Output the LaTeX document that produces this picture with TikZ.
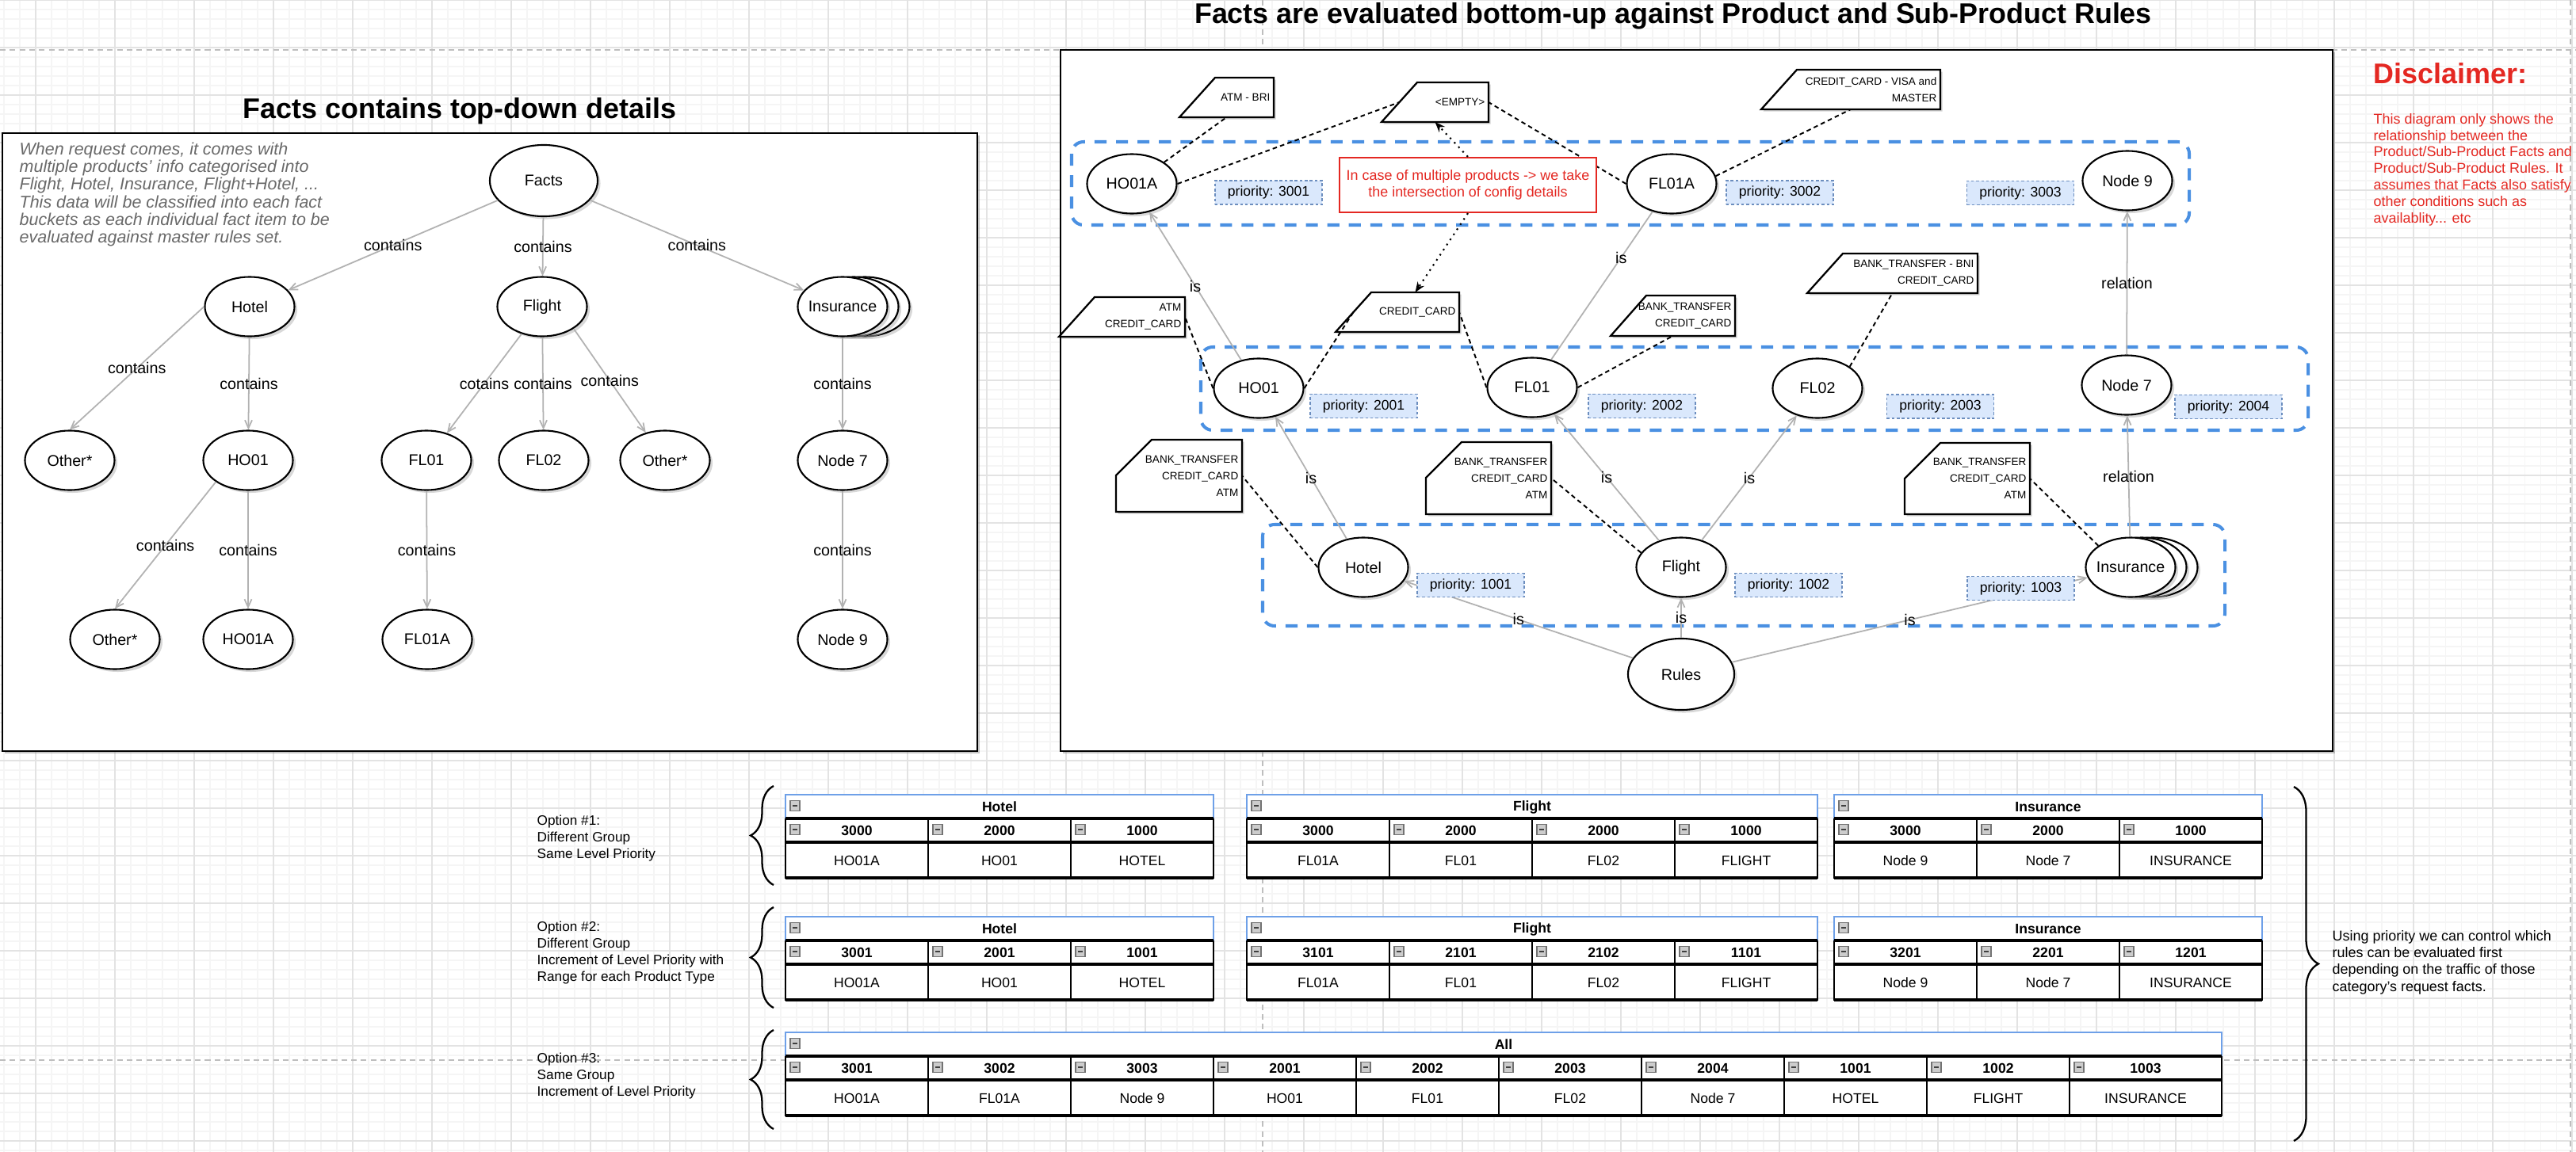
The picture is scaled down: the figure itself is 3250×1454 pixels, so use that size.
\documentclass[tikz,border=0pt]{standalone}
\usepackage{fontspec}
\setmainfont{Liberation Sans}
\usetikzlibrary{shapes.geometric,arrows.meta,shadows,decorations.pathreplacing}

\definecolor{edgegray}{RGB}{178,178,178}
\definecolor{grpblue}{RGB}{74,144,226}
\definecolor{prifill}{RGB}{218,232,252}
\definecolor{pridraw}{RGB}{108,142,191}
\definecolor{alertred}{RGB}{228,40,34}
\definecolor{tblblue}{RGB}{110,160,232}
\definecolor{introgray}{RGB}{105,105,105}
\definecolor{pagegray}{RGB}{190,190,190}

\newcommand{\myfs}[2]{\fontsize{#1}{#2}\selectfont}

\newcommand{\minusicon}[2]{%
  \draw[iconbox] ({#1-6},{#2-6.5}) rectangle ({#1+6},{#2+6.5});
  \draw[black!75, line width=0.6pt] ({#1-3},{#2}) -- ({#1+3},{#2});
}

% #1 name, #2 left, #3 top, #4 right, #5 bottom, #6 cut height, #7 text
\newcommand{\cardnote}[7]{%
  \draw[noteshape] (#2,#5) -- (#2,{#3+#6}) -- ({#2+45},#3) -- (#4,#3) -- (#4,#5) -- cycle;
  \node[notetext, anchor=east] (#1) at ({#4-4},{(#3+#5)/2}) {#7};
  \coordinate (#1-s) at ({(#2+#4)/2},#5);
  \coordinate (#1-n) at ({(#2+45+#4)/2},#3);
  \coordinate (#1-e) at (#4,{(#3+#5)/2});
  \coordinate (#1-w) at ({#2+max(0,45*(#6-(#5-#3)/2)/#6)},{(#3+#5)/2});
}

% #1 left, #2 right, #3 top, #4 title, #5 list left/width/header/data
\newcommand{\prodtable}[5]{%
  \fill[white] (#1,#3) rectangle (#2,{#3+105});
  \node[tbltitle] (tb-#3-#1-t) at ({(#1+#2)/2},{#3+15.5}) {#4};
  \minusicon{#1+12}{#3+14}
  \foreach \cl/\cw/\hd/\dt in {#5}{%
    \draw[tblline] (\cl,{#3+30}) rectangle ({\cl+\cw},{#3+105});
    \node[tblhead] (tb-#3-\cl-h) at ({\cl+\cw/2},{#3+45.5}) {\hd};
    \node[tbldata] (tb-#3-\cl-d) at ({\cl+\cw/2},{#3+83}) {\dt};
    \minusicon{\cl+12}{#3+44}
  }
  \draw[tblblue, line width=0.7pt] (#1,{#3+30}) -- (#1,#3) -- (#2,#3) -- (#2,{#3+30});
  \draw[black, line width=0.9pt] (#1,{#3+30}) -- (#2,{#3+30});
  \draw[black, line width=0.9pt] (#1,{#3+60}) -- (#2,{#3+60});
  \draw[black, line width=1.1pt] (#1,{#3+105}) -- (#2,{#3+105});
}

\begin{document}
\begin{tikzpicture}[x=0.01cm, y=-0.01cm,
  gridminor/.style={draw=black!4, line width=0.3pt},
  gridmajor/.style={draw=black!11, line width=0.4pt},
  pageline/.style={draw=pagegray, line width=0.5pt, dash pattern=on 2pt off 1.5pt},
  panel/.style={draw=black, line width=0.7pt, fill=white,
    drop shadow={shadow xshift=0.03cm, shadow yshift=-0.03cm, fill=black!45}},
  circ/.style={ellipse, draw=black, line width=0.6pt, fill=white,
    minimum width=1.13cm, minimum height=0.75cm, inner sep=0pt,
    font=\myfs{5.6}{6.7},
    drop shadow={shadow xshift=0.035cm, shadow yshift=-0.035cm, fill=black!30}},
  gedge/.style={draw=edgegray, line width=0.5pt, -{Straight Barb[length=0.1cm,width=0.09cm]}},
  elabel/.style={font=\myfs{5.6}{6.7}, inner sep=1pt, text=black},
  ndash/.style={draw=black, line width=0.55pt, dash pattern=on 1.6pt off 1.2pt},
  ndot/.style={draw=black, line width=0.6pt, dash pattern=on 0.6pt off 1.6pt,
    -{Stealth[length=0.13cm,width=0.1cm]}},
  grp/.style={draw=grpblue, line width=1.15pt, dash pattern=on 4.3pt off 3.4pt,
    rounded corners=0.15cm},
  prio/.style={rectangle, draw=pridraw, fill=prifill, line width=0.45pt,
    dash pattern=on 1pt off 0.8pt, minimum width=1.35cm, minimum height=0.3cm,
    inner sep=0pt, font=\myfs{5.0}{6}},
  noteshape/.style={draw=black, line width=0.65pt, fill=white,
    drop shadow={shadow xshift=0.025cm, shadow yshift=-0.025cm, fill=black!35}},
  notetext/.style={inner sep=0pt, align=right, font=\myfs{3.85}{6}},
  redbox/.style={rectangle, draw=alertred, line width=0.6pt, fill=white,
    minimum width=3.24cm, minimum height=0.69cm, inner sep=0pt, text=alertred,
    align=center, font=\myfs{5.1}{6}},
  iconbox/.style={draw=black!55, fill=black!20, line width=0.35pt},
  tblline/.style={draw=black, line width=0.6pt},
  tbltitle/.style={inner sep=0pt, font=\bfseries\myfs{5.0}{6}},
  tblhead/.style={inner sep=0pt, font=\bfseries\myfs{5.0}{6}},
  tbldata/.style={inner sep=0pt, font=\myfs{5.0}{6}},
  textblock/.style={anchor=north west, align=left, inner sep=0pt},
  bracestyle/.style={draw=black, line width=0.65pt, decorate}
]
\useasboundingbox (0,0) rectangle (3250,1454);
\fill[white] (0,0) rectangle (3250,1454);

% ---------- background grid ----------
\foreach \gx in {5,25,...,3245} \draw[gridminor] (\gx,0) -- (\gx,1454);
\foreach \gy in {0,12,...,1452} \draw[gridminor] (0,\gy) -- (3250,\gy);
\foreach \gx in {45,145,...,3245} \draw[gridmajor] (\gx,0) -- (\gx,1454);
\foreach \gy in {0,60,...,1440} \draw[gridmajor] (0,\gy) -- (3250,\gy);

% ---------- page break lines ----------
\draw[pageline] (0,63) -- (3250,63);
\draw[pageline] (0,1338) -- (3250,1338);
\draw[pageline] (1593,0) -- (1593,1454);
\draw[pageline] (3243,0) -- (3243,1454);

% ---------- titles ----------
\node[anchor=base, inner sep=0pt, font=\bfseries\myfs{10.2}{12}] (ltitle) at (580,149) {Facts contains top-down details};
\node[anchor=base, inner sep=0pt, font=\bfseries\myfs{10.2}{12}] (rtitle) at (2111,29) {Facts are evaluated bottom-up against Product and Sub-Product Rules};

% ---------- panels ----------
\draw[panel] (3,168) rectangle (1233,948);
\draw[panel] (1338,63) rectangle (2943,948);

% ================= LEFT PANEL =================
\node[textblock, text=introgray, font=\itshape\myfs{6.1}{6.35}] (intro) at (24,179)
  {When request comes, it comes with\\multiple products' info categorised into\\Flight, Hotel, Insurance, Flight+Hotel, ...\\This data will be classified into each fact\\buckets as each individual fact item to be\\evaluated against master rules set.};

\node[circ, minimum width=1.36cm, minimum height=0.9cm] (facts) at (686,228) {Facts};
\node[circ] (hotel) at (315,387) {Hotel};
\node[circ] (flight) at (684,387) {Flight};
\node[circ] (insb2) at (1091,387) {};
\node[circ] (insb1) at (1077,387) {};
\node[circ] (ins) at (1063,387) {\makebox[0pt]{Insurance}};
\node[circ] (lo1) at (88,581) {Other*};
\node[circ] (lho01) at (313,581) {HO01};
\node[circ] (lfl01) at (538,581) {FL01};
\node[circ] (lfl02) at (686,581) {FL02};
\node[circ] (lo2) at (839,581) {Other*};
\node[circ] (lnode7) at (1063,581) {Node 7};
\node[circ] (lo3) at (145,807) {Other*};
\node[circ] (lho01a) at (313,807) {HO01A};
\node[circ] (lfl01a) at (539,807) {FL01A};
\node[circ] (lnode9) at (1063,807) {Node 9};

\draw[gedge] (facts) -- node[elabel] (la1) {contains} (hotel);
\draw[gedge] (facts) -- node[elabel] (la2) {contains} (flight);
\draw[gedge] (facts) -- node[elabel] (la3) {contains} (ins);
\draw[gedge] (hotel.west) -- node[elabel] (la4) {contains} (lo1.north);
\draw[gedge] (hotel) -- node[elabel] (la5) {contains} (lho01);
\draw[gedge] (flight) -- node[elabel] (la6) {cotains} (lfl01);
\draw[gedge] (flight) -- node[elabel] (la7) {contains} (lfl02);
\draw[gedge] (flight.-35) -- node[elabel] (la8) {contains} (lo2);
\draw[gedge] (ins) -- node[elabel] (la9) {contains} (lnode7);
\draw[gedge] (lho01.south west) -- node[elabel] (la10) {contains} (lo3.north);
\draw[gedge] (lho01) -- node[elabel] (la11) {contains} (lho01a);
\draw[gedge] (lfl01) -- node[elabel] (la12) {contains} (lfl01a);
\draw[gedge] (lnode7) -- node[elabel] (la13) {contains} (lnode9);

% ================= RIGHT PANEL =================
\draw[grp] (1352,179) rectangle (2762,284);
\draw[grp] (1515,438) rectangle (2912,543);
\draw[grp] (1593,662) rectangle (2807,790);

\cardnote{n1}{1488}{98}{1607}{148}{50}{ATM - BRI}
\cardnote{n2}{1743}{104}{1878}{154}{50}{<EMPTY>}
\cardnote{n3}{2222}{88}{2448}{138}{50}{CREDIT\_CARD - VISA and\\MASTER}
\cardnote{n4}{1336}{375}{1495}{425}{50}{ATM\\CREDIT\_CARD}
\cardnote{n5}{1685}{369}{1841}{419}{50}{CREDIT\_CARD}
\cardnote{n6}{2032}{373}{2189}{424}{51}{BANK\_TRANSFER\\CREDIT\_CARD}
\cardnote{n7}{2280}{320}{2495}{370}{50}{BANK\_TRANSFER - BNI\\CREDIT\_CARD}
\cardnote{n8}{1408}{555}{1567}{646}{45}{BANK\_TRANSFER\\CREDIT\_CARD\\ATM}
\cardnote{n9}{1799}{558}{1957}{649}{45}{BANK\_TRANSFER\\CREDIT\_CARD\\ATM}
\cardnote{n10}{2403}{559}{2561}{649}{45}{BANK\_TRANSFER\\CREDIT\_CARD\\ATM}

\node[circ] (ho01a) at (1428,232) {HO01A};
\node[circ] (fl01a) at (2109,232) {FL01A};
\node[circ] (node9) at (2684,228) {Node 9};
\node[circ] (ho01) at (1588,490) {HO01};
\node[circ] (fl01) at (1933,489) {FL01};
\node[circ] (fl02) at (2293,490) {FL02};
\node[circ] (node7) at (2683,486) {Node 7};
\node[circ] (hotelR) at (1720,716) {Hotel};
\node[circ] (flightR) at (2121,716) {Flight};
\node[circ] (insRb2) at (2716,716) {};
\node[circ] (insRb1) at (2702,716) {};
\node[circ] (insR) at (2688,716) {\makebox[0pt]{Insurance}};
\node[circ, minimum width=1.34cm, minimum height=0.9cm] (rules) at (2121,851) {Rules};

% gray relation edges
\draw[gedge] (ho01) -- node[elabel] (lb1) {is} (ho01a);
\draw[gedge, -] (fl01) -- node[elabel, pos=0.69] (lb2) {is} (fl01a);
\draw[gedge] (hotelR) -- node[elabel] (lb3) {is} (ho01);
\draw[gedge] (flightR) -- node[elabel] (lb4) {is} (fl01);
\draw[gedge] (flightR) -- node[elabel] (lb5) {is} (fl02);
\draw[gedge] (insR) -- node[elabel] (lb6) {relation} (node7);
\draw[gedge] (node7) -- node[elabel] (lb7) {relation} (node9);
\draw[gedge] (rules) -- node[elabel] (lb8) {is} (hotelR);
\draw[gedge] (rules) -- node[elabel] (lb9) {is} (flightR);
\draw[gedge] (rules) -- node[elabel] (lb10) {is} (insR);

% dashed note connectors
\draw[ndash] (ho01a.north east) -- (n1-s);
\draw[ndash] (ho01a.east) -- (n2-w);
\draw[ndash] (fl01a.west) -- (n2-e);
\draw[ndash] (fl01a.10) -- (n3-s);
\draw[ndash] (ho01.west) -- (n4-e);
\draw[ndash] (ho01.east) -- (n5-w);
\draw[ndash] (fl01.west) -- (n5-e);
\draw[ndash] (fl01.east) -- (n6-s);
\draw[ndash] (fl02.north east) -- (n7-s);
\draw[ndash] (hotelR.west) -- (n8-e);
\draw[ndash] (flightR.160) -- (n9-e);
\draw[ndash] (insR.north west) -- (n10-e);

% red callout
\node[redbox] (rb) at (1852,233.5) {In case of multiple products -> we take\\the intersection of config details};
\draw[ndot] (rb.north) -- (n2-s);
\draw[ndot] (rb.south) -- (n5-n);

% priority boxes
\node[prio] (p3001) at (1600.5,243) {priority: 3001};
\node[prio] (p3002) at (2245.5,243) {priority: 3002};
\node[prio] (p3003) at (2549,243.5) {priority: 3003};
\node[prio] (p2001) at (1720.5,512.5) {priority: 2001};
\node[prio] (p2002) at (2071.5,512.5) {priority: 2002};
\node[prio] (p2003) at (2448,513) {priority: 2003};
\node[prio] (p2004) at (2811.5,513.5) {priority: 2004};
\node[prio] (p1001) at (1855.5,738.5) {priority: 1001};
\node[prio] (p1002) at (2256.5,738.5) {priority: 1002};
\node[prio] (p1003) at (2549.5,742.5) {priority: 1003};

% ================= DISCLAIMER =================
\node[anchor=base west, inner sep=0pt, text=alertred, font=\bfseries\myfs{10.2}{12}] (disc) at (2994,105) {Disclaimer:};
\node[textblock, text=alertred, font=\myfs{5.1}{5.92}] (disctext) at (2994,142.5)
  {This diagram only shows the\\relationship between the\\Product/Sub-Product Facts and\\Product/Sub-Product Rules. It\\assumes that Facts also satisfy\\other conditions such as\\availablity... etc};

% ================= OPTIONS / TABLES =================
\node[textblock, font=\myfs{4.9}{6}] (opt1) at (677,1028) {Option \#1:\\Different Group\\Same Level Priority};
\node[textblock, font=\myfs{4.9}{6}] (opt2) at (677,1162) {Option \#2:\\Different Group\\Increment of Level Priority with\\Range for each Product Type};
\node[textblock, font=\myfs{4.9}{6}] (opt3) at (677,1328) {Option \#3:\\Same Group\\Increment of Level Priority};

\draw[bracestyle, decoration={brace, amplitude=0.29cm}] (976,1117) -- (976,992);
\draw[bracestyle, decoration={brace, amplitude=0.29cm}] (976,1272) -- (976,1145);
\draw[bracestyle, decoration={brace, amplitude=0.29cm}] (976,1425) -- (976,1300);
\draw[bracestyle, decoration={brace, amplitude=0.31cm}] (2894,993) -- (2894,1440);

\node[textblock, font=\myfs{5.1}{6}] (usage) at (2942,1174) {Using priority we can control which\\rules can be evaluated first\\depending on the traffic of those\\category's request facts.};

% Option 1
\prodtable{991}{1531}{1003}{Hotel}{991/180/3000/HO01A,1171/180/2000/HO01,1351/180/1000/HOTEL}
\prodtable{1573}{2293}{1003}{Flight}{1573/180/3000/FL01A,1753/180/2000/FL01,1933/180/2000/FL02,2113/180/1000/FLIGHT}
\prodtable{2314}{2854}{1003}{Insurance}{2314/180/3000/Node 9,2494/180/2000/Node 7,2674/180/1000/INSURANCE}
% Option 2
\prodtable{991}{1531}{1157}{Hotel}{991/180/3001/HO01A,1171/180/2001/HO01,1351/180/1001/HOTEL}
\prodtable{1573}{2293}{1157}{Flight}{1573/180/3101/FL01A,1753/180/2101/FL01,1933/180/2102/FL02,2113/180/1101/FLIGHT}
\prodtable{2314}{2854}{1157}{Insurance}{2314/180/3201/Node 9,2494/180/2201/Node 7,2674/180/1201/INSURANCE}
% Option 3
\prodtable{991}{2803}{1303}{All}{991/180/3001/HO01A,1171/180/3002/FL01A,1351/180/3003/Node 9,1531/180/2001/HO01,1711/180/2002/FL01,1891/180/2003/FL02,2071/180/2004/Node 7,2251/180/1001/HOTEL,2431/180/1002/FLIGHT,2611/192/1003/INSURANCE}

\end{tikzpicture}
\end{document}
